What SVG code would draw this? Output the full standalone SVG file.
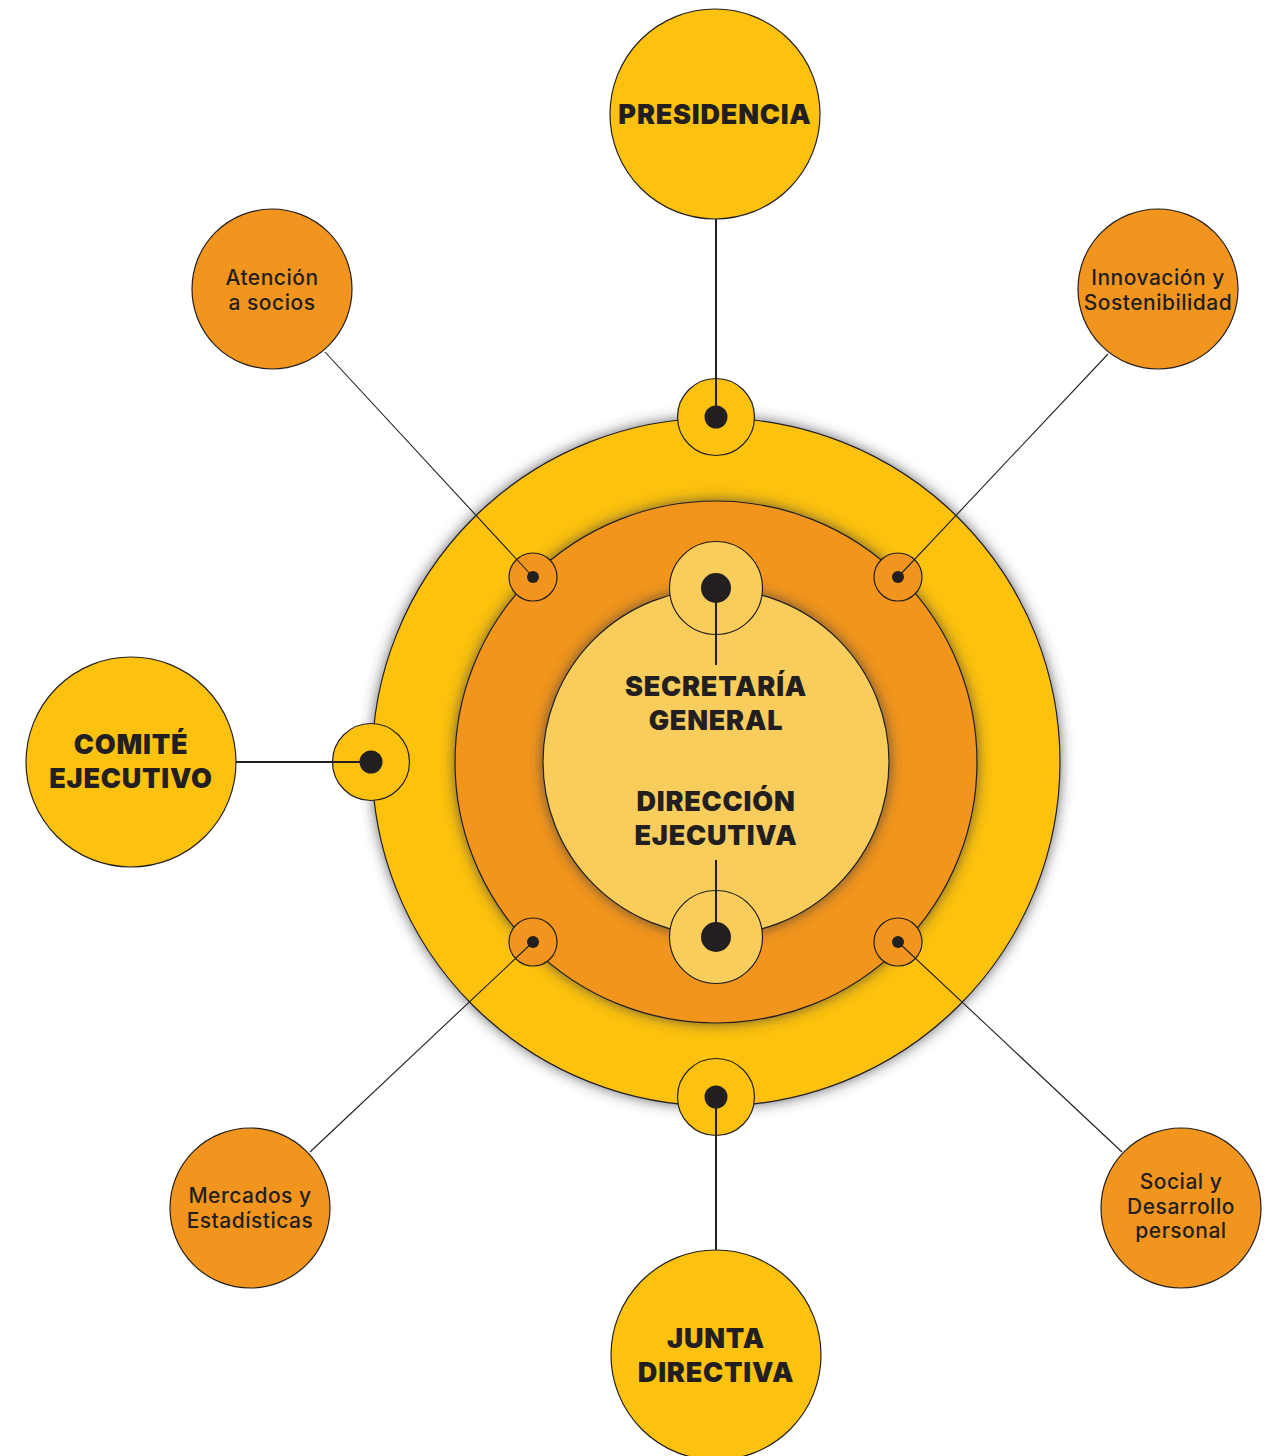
<svg xmlns="http://www.w3.org/2000/svg" width="1271" height="1456" viewBox="0 0 1271 1456">
<defs>
<filter id="sh" x="-20%" y="-20%" width="140%" height="140%">
<feDropShadow dx="0" dy="0" stdDeviation="7" flood-color="#3a3a40" flood-opacity="0.75"/>
</filter>
<style>
.y{fill:#FDC210;stroke:#231F20;stroke-width:1.2}
.o{fill:#F1951F;stroke:#231F20;stroke-width:1.2}
.l{fill:#F9CD5C;stroke:#231F20;stroke-width:1.2}
.dot{fill:#231F20}
.ln{stroke:#231F20;stroke-width:2;fill:none}
.thin{stroke:#231F20;stroke-width:1.1;fill:none}
.big{font-family:Inter,"Liberation Sans",sans-serif;font-weight:900;font-size:27px;letter-spacing:0.8px;fill:#231F20;text-anchor:middle}
.sm{font-family:Inter,"Liberation Sans",sans-serif;font-weight:500;font-size:21px;letter-spacing:0.5px;fill:#231F20;text-anchor:middle}
</style>
</defs>
<rect width="1271" height="1456" fill="#fff"/>
<g id="outer-ring">
<g filter="url(#sh)"><circle class="y" cx="716" cy="762" r="344"/></g>
</g>
<g id="orange-ring">
<g filter="url(#sh)"><circle class="o" cx="716" cy="762" r="261"/></g>
</g>
<g id="inner-core">
<g filter="url(#sh)"><circle class="l" cx="716" cy="762" r="173"/></g>
</g>
<g id="junctions">
<circle class="y" cx="716" cy="417" r="38.5"/>
<circle class="y" cx="716" cy="1097" r="38.5"/>
<circle class="y" cx="371" cy="762" r="38.5"/>
<circle class="l" cx="716" cy="588" r="46.5"/>
<circle class="l" cx="716" cy="937" r="46.5"/>
<circle class="o" cx="533" cy="577" r="24"/>
<circle class="o" cx="898" cy="577" r="24"/>
<circle class="o" cx="533" cy="942" r="24"/>
<circle class="o" cx="898" cy="942" r="24"/>
</g>
<g id="connectors">
<line class="ln" x1="716" y1="218" x2="716" y2="417"/>
<line class="ln" x1="716" y1="588" x2="716" y2="665"/>
<line class="ln" x1="716" y1="860" x2="716" y2="937"/>
<line class="ln" x1="716" y1="1097" x2="716" y2="1250"/>
<line class="ln" x1="236" y1="762" x2="371" y2="762"/>
<line class="thin" x1="325" y1="352" x2="533" y2="577"/>
<line class="thin" x1="1108" y1="354" x2="898" y2="577"/>
<line class="thin" x1="310" y1="1152" x2="533" y2="942"/>
<line class="thin" x1="1122" y1="1152" x2="898" y2="942"/>
</g>
<g id="dots">
<circle class="dot" cx="716" cy="417" r="11.5"/>
<circle class="dot" cx="716" cy="1097" r="11.5"/>
<circle class="dot" cx="371" cy="762" r="11.5"/>
<circle class="dot" cx="716" cy="588" r="15"/>
<circle class="dot" cx="716" cy="937" r="15"/>
<circle class="dot" cx="533" cy="577" r="6"/>
<circle class="dot" cx="898" cy="577" r="6"/>
<circle class="dot" cx="533" cy="942" r="6"/>
<circle class="dot" cx="898" cy="942" r="6"/>
</g>
<g id="center-labels">
<text class="big" x="716" y="696">SECRETARÍA</text>
<text class="big" x="716" y="730">GENERAL</text>
<text class="big" x="716" y="811">DIRECCIÓN</text>
<text class="big" x="716" y="845">EJECUTIVA</text>
</g>
<g id="presidencia">
<circle class="y" cx="715" cy="114" r="105"/>
<text class="big" x="715" y="124">PRESIDENCIA</text>
</g>
<g id="comite-ejecutivo">
<circle class="y" cx="131" cy="762" r="105"/>
<text class="big" x="131" y="754">COMITÉ</text>
<text class="big" x="131" y="788">EJECUTIVO</text>
</g>
<g id="junta-directiva">
<circle class="y" cx="716" cy="1355" r="105"/>
<text class="big" x="716" y="1348">JUNTA</text>
<text class="big" x="716" y="1382">DIRECTIVA</text>
</g>
<g id="atencion-socios">
<circle class="o" cx="272" cy="289" r="80"/>
<text class="sm" x="272" y="285">Atención</text>
<text class="sm" x="272" y="310">a socios</text>
</g>
<g id="innovacion">
<circle class="o" cx="1158" cy="289" r="80"/>
<text class="sm" x="1158" y="285">Innovación y</text>
<text class="sm" x="1158" y="310">Sostenibilidad</text>
</g>
<g id="mercados">
<circle class="o" cx="250" cy="1208" r="80"/>
<text class="sm" x="250" y="1203">Mercados y</text>
<text class="sm" x="250" y="1228">Estadísticas</text>
</g>
<g id="social">
<circle class="o" cx="1181" cy="1208" r="80"/>
<text class="sm" x="1181" y="1189">Social y</text>
<text class="sm" x="1181" y="1214">Desarrollo</text>
<text class="sm" x="1181" y="1238">personal</text>
</g>
</svg>
